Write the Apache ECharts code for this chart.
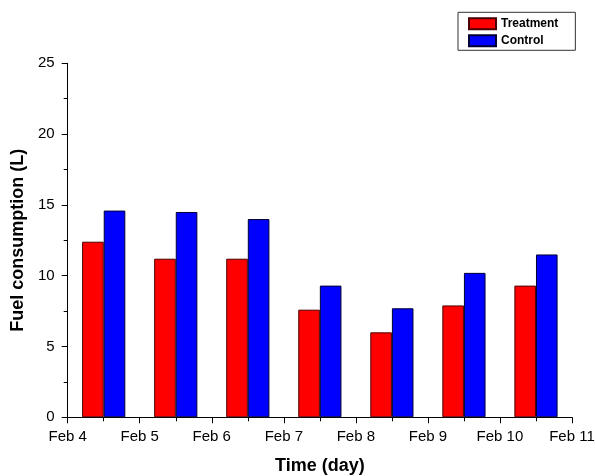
<!DOCTYPE html>
<html>
<head>
<meta charset="utf-8">
<script src="https://cdn.jsdelivr.net/npm/echarts@6/dist/echarts.min.js"></script>
<style>html,body{margin:0;padding:0;background:#fff;}#c{width:595px;height:476px;}</style>
</head>
<body>
<div id="c"></div>
<script>
const dayPositions = [4.5, 5.5, 6.5, 7.5, 8.5, 9.5, 10.5];
const treatment = [12.4, 11.2, 11.2, 7.6, 6.0, 7.9, 9.3];
const control = [14.6, 14.5, 14.0, 9.3, 7.7, 10.2, 11.5];
const xTickLabels = {4: 'Feb 4', 5: 'Feb 5', 6: 'Feb 6', 7: 'Feb 7', 8: 'Feb 8', 9: 'Feb 9', 10: 'Feb 10', 11: 'Feb 11'};
const yTicks = [0, 5, 10, 15, 20, 25];

const chart = echarts.init(document.getElementById('c'), null, {renderer: 'canvas'});
const font = '"Liberation Sans", Arial, sans-serif';
chart.setOption({
  animation: false,
  backgroundColor: '#fff',
  textStyle: {fontFamily: font},
  grid: {left: 67.7, right: 23, top: 63.3, bottom: 58.7, containLabel: false, outerBoundsMode: 'none'},
  legend: {
    orient: 'vertical', left: 458, top: 12.3,
    itemWidth: 27, itemHeight: 11, itemGap: 4,
    padding: [5, 17, 3, 10],
    borderColor: '#333', borderWidth: 1,
    icon: 'rect',
    textStyle: {fontFamily: font, fontSize: 12, fontWeight: 'bold', color: '#000', padding: [0, 0, 0, 0]},
    data: ['Treatment', 'Control']
  },
  xAxis: {
    type: 'value', min: 4, max: 11, interval: 1,
    name: 'Time (day)', nameLocation: 'middle', nameGap: 40,
    nameTextStyle: {fontFamily: font, fontSize: 18, fontWeight: 'bold', color: '#000'},
    axisLine: {lineStyle: {color: '#000', width: 1}},
    axisTick: {length: 6, lineStyle: {color: '#000'}},
    minorTick: {show: true, splitNumber: 2, length: 4, lineStyle: {color: '#000'}},
    splitLine: {show: false},
    axisLabel: {margin: 12, fontSize: 15, color: '#000', fontFamily: font,
      formatter: v => xTickLabels[v] || ''}
  },
  yAxis: {
    type: 'value', min: yTicks[0], max: yTicks[yTicks.length - 1], interval: 5,
    name: 'Fuel consumption (L)', nameLocation: 'middle', nameGap: 40, nameRotate: 90,
    nameTextStyle: {fontFamily: font, fontSize: 18, fontWeight: 'bold', color: '#000'},
    axisLine: {show: true, lineStyle: {color: '#000', width: 1}},
    axisTick: {show: true, length: 6, lineStyle: {color: '#000'}},
    minorTick: {show: true, splitNumber: 2, length: 4, lineStyle: {color: '#000'}},
    splitLine: {show: false},
    axisLabel: {margin: 13, fontSize: 15, color: '#000', fontFamily: font}
  },
  series: [
    {name: 'Treatment', type: 'bar', barWidth: 21.6, barGap: '0%',
     itemStyle: {color: '#ff0000', borderColor: '#4a0000', borderWidth: 1},
     data: dayPositions.map((x, i) => [x, treatment[i]])},
    {name: 'Control', type: 'bar', barWidth: 21.6, barGap: '0%',
     itemStyle: {color: '#0000ff', borderColor: '#000033', borderWidth: 1},
     data: dayPositions.map((x, i) => [x, control[i]])}
  ]
});
</script>
</body>
</html>
